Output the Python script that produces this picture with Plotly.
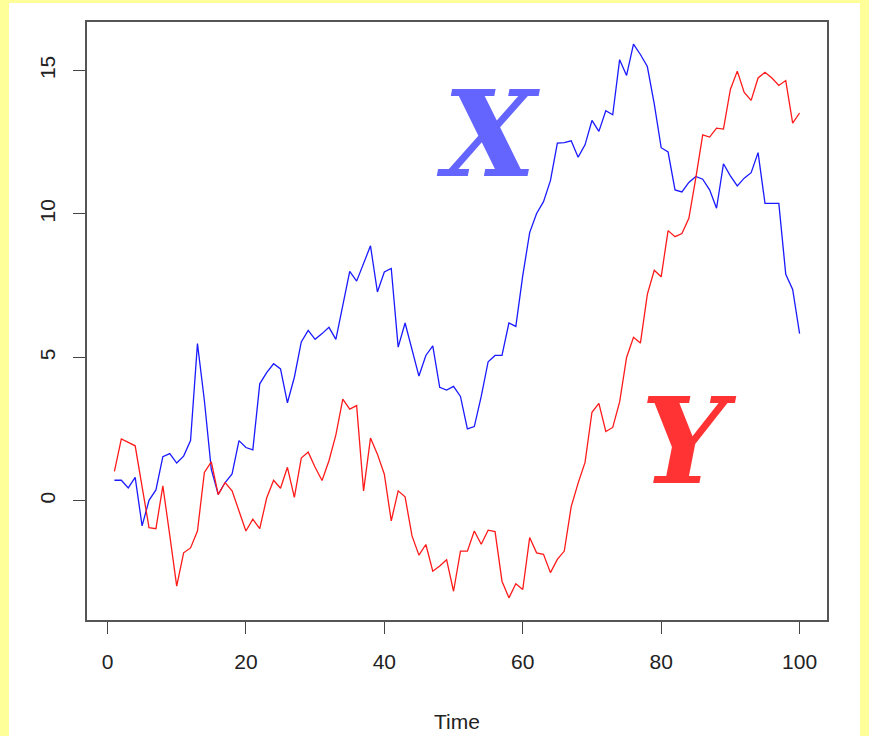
import plotly.graph_objects as go

time = list(range(1, 101))

x_series = [0.72, 0.72, 0.45, 0.82, -0.87, 0.02, 0.38, 1.54, 1.65, 1.32,
            1.56, 2.10, 5.48, 3.50, 1.10, 0.23, 0.64, 0.94, 2.10, 1.86,
            1.78, 4.08, 4.47, 4.78, 4.60, 3.42, 4.31, 5.54, 5.94, 5.63,
            5.83, 6.05, 5.63, 6.85, 8.00, 7.66, 8.30, 8.89, 7.28, 7.98,
            8.10, 5.36, 6.20, 5.28, 4.35, 5.07, 5.40, 3.96, 3.86, 3.99,
            3.64, 2.51, 2.59, 3.64, 4.85, 5.07, 5.07, 6.20, 6.08, 7.85,
            9.35, 10.02, 10.43, 11.16, 12.47, 12.49, 12.55, 11.98, 12.41, 13.26,
            12.88, 13.60, 13.46, 15.38, 14.83, 15.92, 15.56, 15.14, 13.84, 12.31,
            12.16, 10.84, 10.77, 11.10, 11.31, 11.21, 10.84, 10.20, 11.75, 11.33,
            10.98, 11.25, 11.44, 12.14, 10.37, 10.37, 10.37, 7.90, 7.37, 5.83]

y_series = [1.03, 2.16, 2.04, 1.92, 0.50, -0.93, -0.97, 0.52, -1.20, -2.97,
            -1.81, -1.64, -1.05, 0.99, 1.36, 0.22, 0.64, 0.35, -0.35, -1.05,
            -0.64, -0.97, 0.10, 0.72, 0.44, 1.17, 0.12, 1.49, 1.70, 1.17,
            0.71, 1.40, 2.30, 3.55, 3.20, 3.32, 0.35, 2.19, 1.63, 0.93,
            -0.70, 0.35, 0.14, -1.22, -1.89, -1.52, -2.45, -2.27, -2.05, -3.15,
            -1.75, -1.75, -1.05, -1.51, -1.02, -1.07, -2.80, -3.38, -2.89, -3.09,
            -1.28, -1.81, -1.86, -2.50, -2.04, -1.75, -0.20, 0.62, 1.34, 3.09,
            3.40, 2.42, 2.56, 3.45, 5.00, 5.70, 5.50, 7.20, 8.04, 7.81,
            9.42, 9.21, 9.32, 9.85, 11.25, 12.76, 12.68, 12.99, 12.96, 14.34,
            14.98, 14.24, 13.96, 14.74, 14.94, 14.74, 14.48, 14.65, 13.17, 13.52]

x_ticks = [0, 20, 40, 60, 80, 100]
y_ticks = [0, 5, 10, 15]
x_title = "Time"
labels = ["X", "Y"]
label_pos_t = [55, 84]
label_pos_v = [12.8, 2.1]

# R-style 4% range extension
tmin, tmax = min(time), max(time)
tpad = (tmax - tmin) * 0.04
allv = x_series + y_series
vmin, vmax = min(allv), max(allv)
vpad = (vmax - vmin) * 0.04

fig = go.Figure()
fig.add_trace(go.Scatter(x=time, y=x_series, mode="lines",
                         line=dict(color="#1a1aFF", width=1.3), showlegend=False))
fig.add_trace(go.Scatter(x=time, y=y_series, mode="lines",
                         line=dict(color="#FF1a1a", width=1.3), showlegend=False))

fig.add_annotation(x=label_pos_t[0], y=label_pos_v[0], text="<b><i>" + labels[0] + "</i></b>",
                   showarrow=False, font=dict(family="DejaVu Serif", size=120, color="#6464FF"))
fig.add_annotation(x=label_pos_t[1], y=label_pos_v[1], text="<b><i>" + labels[1] + "</i></b>",
                   showarrow=False, font=dict(family="DejaVu Serif", size=120, color="#FF3333"))

# white page inside yellow frame
fig.add_shape(type="rect", xref="paper", yref="paper", layer="below",
              x0=(9 - 87) / 740, x1=(860 - 87) / 740,
              y0=(620 - 760) / 598, y1=(620 - 3) / 598,
              fillcolor="white", line=dict(width=0))

axis_font = dict(family="Liberation Sans", size=21, color="#222222")
fig.update_layout(
    width=869, height=736,
    margin=dict(l=87, r=42, t=22, b=116),
    paper_bgcolor="#FFFF99",
    plot_bgcolor="white",
    xaxis=dict(range=[tmin - tpad, tmax + tpad], tickvals=x_ticks, automargin=False,
               ticks="outside", ticklen=12, tickcolor="#444", tickwidth=1.2,
               showgrid=False, zeroline=False, showline=True, mirror=True,
               linecolor="#555", linewidth=1.5, tickfont=axis_font,
               ticklabelstandoff=10,
               title=dict(text=x_title, font=axis_font, standoff=42)),
    yaxis=dict(range=[vmin - vpad, vmax + vpad], tickvals=y_ticks, automargin=False,
               ticks="outside", ticklen=12, tickcolor="#444", tickwidth=1.2,
               showgrid=False, zeroline=False, showline=True, mirror=True,
               linecolor="#555", linewidth=1.5, tickfont=axis_font,
               tickangle=-90, ticklabelstandoff=10),
)

fig.write_html("out.html")
